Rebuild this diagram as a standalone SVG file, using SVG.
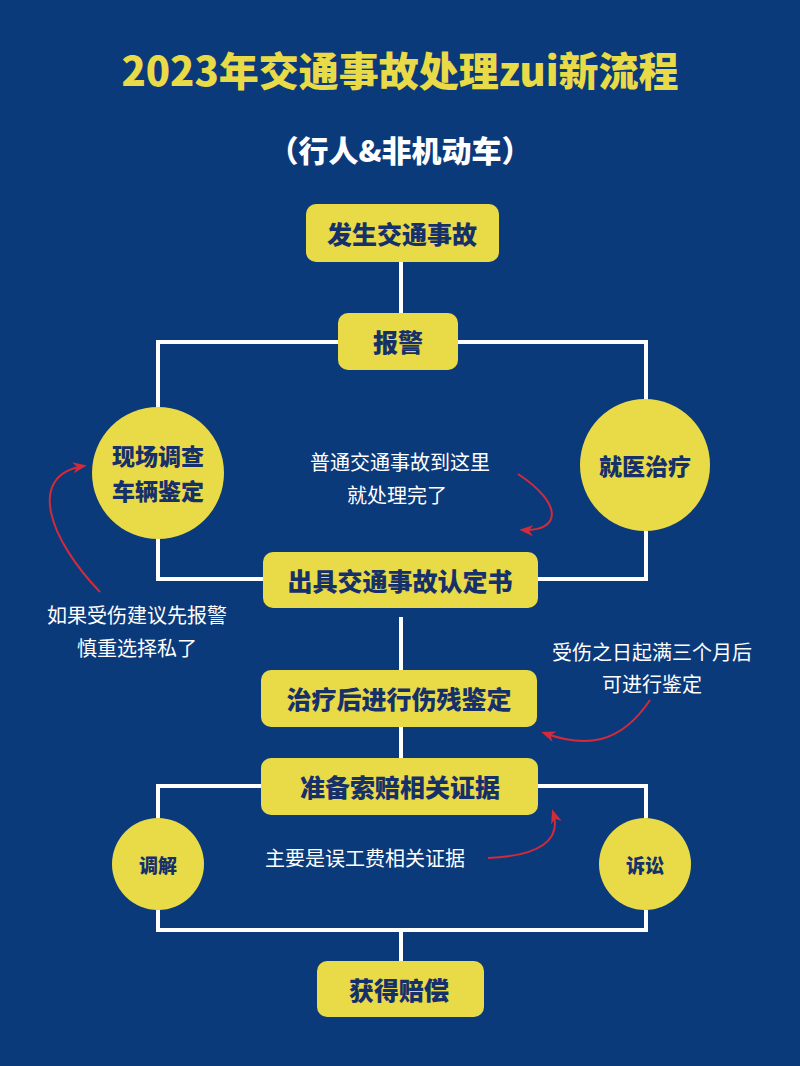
<svg xmlns="http://www.w3.org/2000/svg" width="800" height="1066" viewBox="0 0 800 1066">
<style>
.box{fill:#e9da47}
.nt{font-family:"Noto Sans CJK SC",sans-serif;font-weight:900;fill:#16306a;text-anchor:middle;dominant-baseline:central}
.ann{font-family:"Noto Sans CJK SC",sans-serif;font-size:20px;fill:#ffffff;text-anchor:middle}
.ln{stroke:#ffffff;stroke-width:4;fill:none}
.red{stroke:#d42a3a;stroke-width:2;fill:none;marker-end:url(#ah)}
</style>
<defs>
<marker id="ah" viewBox="0 0 10 10" refX="8" refY="5" markerWidth="7" markerHeight="7" orient="auto"><path d="M0,1 L10,5 L0,9 L3,5 Z" fill="#d42a3a"/></marker>
</defs>
<rect width="800" height="1066" fill="#0b3a7b"/>
<text x="400" y="86" font-family="Noto Sans CJK SC,sans-serif" font-weight="900" font-size="40" fill="#e9da47" text-anchor="middle">2023年交通事故处理zui新流程</text>
<text x="400" y="162" font-family="Noto Sans CJK SC,sans-serif" font-weight="900" font-size="30" fill="#ffffff" text-anchor="middle">（行人&amp;非机动车）</text>
<g id="connectors">
<path class="ln" d="M401,262 V313"/>
<path class="ln" d="M338,342 H158 V407 M458,342 H646 V400"/>
<path class="ln" d="M158,539 V579 H263 M538,579 H646 V531"/>
<path class="ln" d="M401,617 V670 M401,727 V758"/>
<path class="ln" d="M261,786 H158 V818 M538,786 H646 V818"/>
<path class="ln" d="M158,910 V930 H646 V910 M401,930 V961"/>
<path class="red" d="M518,474 C565,505 560,532 522,530"/>
<path class="red" d="M100,592 C50,540 25,475 84,466"/>
<path class="red" d="M650,700 C620,745 585,748 544,733"/>
<path class="red" d="M488,858 C540,856 562,840 553,812"/>
</g>
<g id="n1"><rect class="box" x="306" y="204" width="193" height="58" rx="10"/><text class="nt" x="402" y="233" font-size="25">发生交通事故</text></g>
<g id="n2"><rect class="box" x="338" y="313" width="120" height="57" rx="10"/><text class="nt" x="398" y="341" font-size="25">报警</text></g>
<g id="n3"><ellipse class="box" cx="158" cy="473" rx="66" ry="66"/><text class="nt" x="158" y="455" font-size="23">现场调查</text><text class="nt" x="158" y="490" font-size="23">车辆鉴定</text></g>
<g id="n4"><ellipse class="box" cx="645" cy="465" rx="65" ry="66"/><text class="nt" x="645" y="465" font-size="23">就医治疗</text></g>
<g id="n5"><rect class="box" x="263" y="552" width="275" height="56" rx="10"/><text class="nt" x="400" y="580" font-size="25">出具交通事故认定书</text></g>
<g id="n6"><rect class="box" x="261" y="670" width="276" height="57" rx="10"/><text class="nt" x="399" y="698" font-size="25">治疗后进行伤残鉴定</text></g>
<g id="n7"><rect class="box" x="261" y="758" width="277" height="57" rx="10"/><text class="nt" x="400" y="786" font-size="25">准备索赔相关证据</text></g>
<g id="n8"><ellipse class="box" cx="158" cy="864" rx="46" ry="46"/><text class="nt" x="158" y="864" font-size="19">调解</text></g>
<g id="n9"><ellipse class="box" cx="645" cy="864" rx="46" ry="46"/><text class="nt" x="645" y="864" font-size="19">诉讼</text></g>
<g id="n10"><rect class="box" x="317" y="961" width="167" height="56" rx="10"/><text class="nt" x="399" y="989" font-size="25">获得赔偿</text></g>
<g id="annotations">
<text class="ann" x="400" y="470">普通交通事故到这里</text>
<text class="ann" x="397" y="503">就处理完了</text>
<text class="ann" x="137" y="623">如果受伤建议先报警</text>
<text class="ann" x="137" y="656">慎重选择私了</text>
<text class="ann" x="652" y="660">受伤之日起满三个月后</text>
<text class="ann" x="652" y="692">可进行鉴定</text>
<text class="ann" x="365" y="866">主要是误工费相关证据</text>
</g>
</svg>
